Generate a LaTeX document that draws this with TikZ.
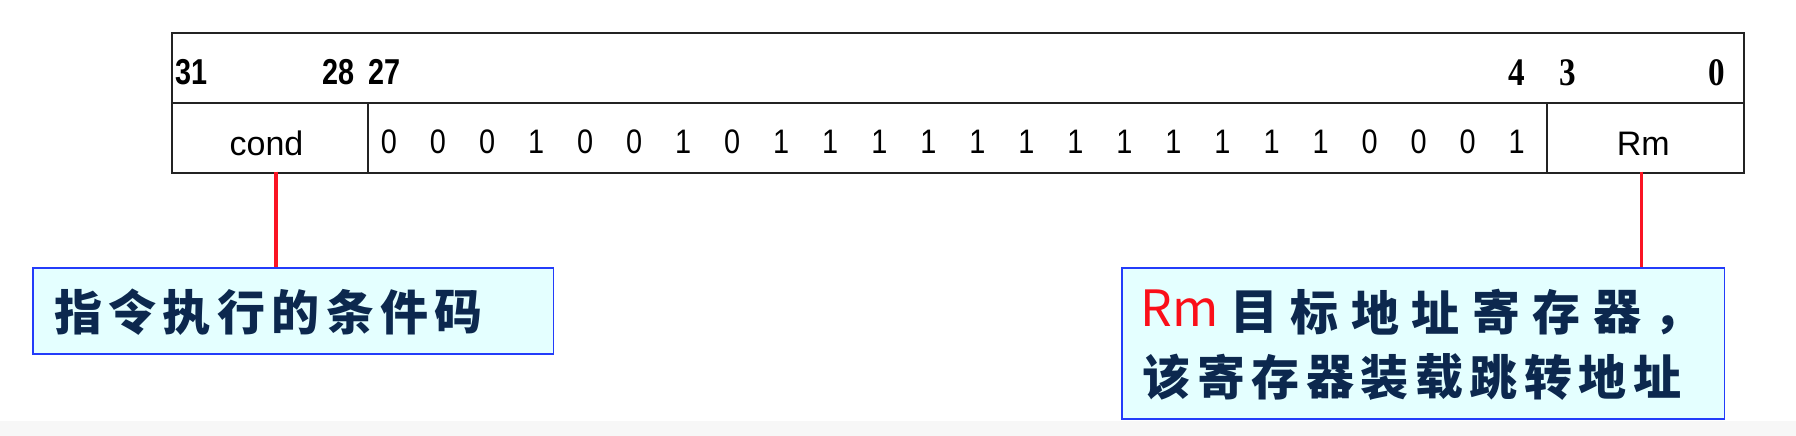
\documentclass[tikz,border=0pt]{standalone}
\usepackage{fontspec}
\setmainfont{Liberation Sans}
\newfontfamily\serifnum{Liberation Serif}
\newfontfamily\cjk{Noto Sans CJK SC}
\definecolor{tblline}{RGB}{35,35,35}
\definecolor{redline}{RGB}{250,20,35}
\definecolor{boxfill}{RGB}{228,255,255}
\definecolor{boxline}{RGB}{35,60,250}
\definecolor{cjktext}{RGB}{12,40,78}
\definecolor{rmred}{RGB}{250,15,25}
\definecolor{bottomgray}{RGB}{247,247,247}
\begin{document}
\begin{tikzpicture}[x=1pt,y=-1pt,
  cellbox/.style={draw=tblline, line width=2pt, fill=white, inner sep=0pt, anchor=north west},
  notebox/.style={draw=boxline, line width=1.8pt, fill=boxfill, inner sep=0pt, anchor=north west},
  redconn/.style={draw=redline, line width=3.3pt},
  hdrnum/.style={inner sep=0pt, font=\bfseries\fontsize{36}{40}\selectfont},
  hdrser/.style={inner sep=0pt, font=\serifnum\bfseries\fontsize{39}{44}\selectfont},
  bitnum/.style={inner sep=0pt, anchor=base, font=\fontsize{34}{40}\selectfont},
  fieldlbl/.style={inner sep=0pt, anchor=base, font=\fontsize{34}{40}\selectfont},
  cjkchar/.style={inner sep=0pt, anchor=center, text=cjktext, font=\cjk\bfseries\fontsize{48}{56}\selectfont}
]
\useasboundingbox (0,0) rectangle (1796,436);
\fill[white] (0,0) rectangle (1796,436);
\fill[bottomgray] (0,421) rectangle (1796,436);

% instruction format table
\node[cellbox, minimum width=1572.3pt, minimum height=69.4pt] (hdr) at (171,32.3) {};
\node[cellbox, minimum width=195.7pt, minimum height=70pt] (condcell) at (171,101.7) {};
\node[cellbox, minimum width=1179pt, minimum height=70pt] (bitscell) at (366.7,101.7) {};
\node[cellbox, minimum width=197.6pt, minimum height=70pt] (rmcell) at (1545.7,101.7) {};

% bit numbers
\node[hdrnum, anchor=base west] (b31) at (175.2,84.3) {\scalebox{0.8}[1]{31}};
\node[hdrnum, anchor=base east] (b28) at (354.3,84.3) {\scalebox{0.8}[1]{28}};
\node[hdrnum, anchor=base west] (b27) at (368.6,84.3) {\scalebox{0.8}[1]{27}};
\node[hdrser, anchor=base east] (b4) at (1525.5,85) {\scalebox{0.85}[1]{4}};
\node[hdrser, anchor=base west] (b3) at (1559.5,85) {\scalebox{0.85}[1]{3}};
\node[hdrser, anchor=base east] (b0) at (1725.5,85) {\scalebox{0.85}[1]{0}};

% field contents
\node[fieldlbl] (condlbl) at (266.5,155) {cond};
\node[fieldlbl] (rmlbl) at (1643.3,155) {Rm};
\foreach \d [count=\i from 0] in {0,0,0,1,0,0,1,0,1,1,1,1,1,1,1,1,1,1,1,1,0,0,0,1}{
  \node[bitnum] (bit\i) at ({389+49.03*\i},153.3) {\scalebox{0.85}[1]{\d}};
}

% note boxes
\node[notebox, minimum width=520.9pt, minimum height=86.6pt] (leftbox) at (31.7,266.7) {};
\node[notebox, minimum width=602.6pt, minimum height=151.6pt] (rightbox) at (1121,266.7) {};

% connectors
\coordinate (condpt) at (276,171.7);
\coordinate (rmpt) at (1641.7,171.7);
\draw[redconn] (condpt) -- (condpt |- leftbox.north);
\draw[redconn] (rmpt) -- (rmpt |- rightbox.north);

% left note text
\foreach \c [count=\i from 0] in {指,令,执,行,的,条,件,码}{
  \node[cjkchar] (la\i) at ({78+54.4*\i},312.5) {\c};
}

% right note text
\node[inner sep=0pt, anchor=base west, text=rmred, font=\cjk\fontsize{50}{58}\selectfont] (rmred) at (1140.5,326.7) {Rm};
\foreach \c [count=\i from 0] in {目,标,地,址,寄,存,器}{
  \node[cjkchar] (ra\i) at ({1254+60.5*\i},312.5) {\c};
}
\node[cjkchar] (racomma) at (1677.5,325) {，};
\foreach \c [count=\i from 0] in {该,寄,存,器,装,载,跳,转,地,址}{
  \node[cjkchar] (rb\i) at ({1166.7+54.5*\i},377) {\c};
}
\end{tikzpicture}
\end{document}
